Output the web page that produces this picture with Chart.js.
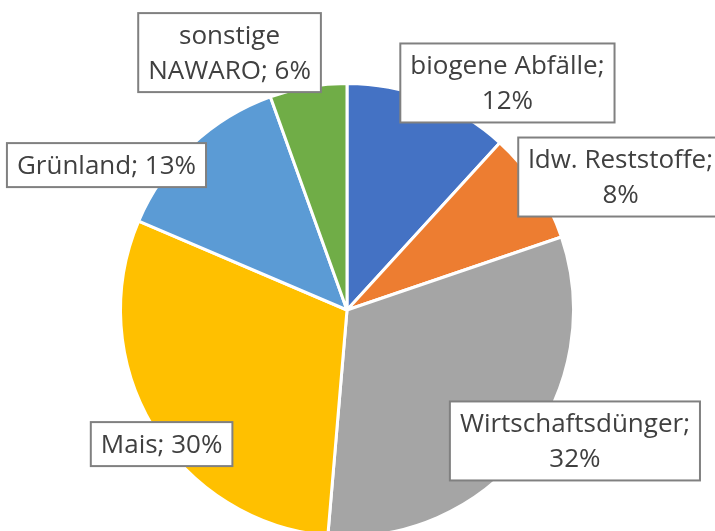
<!DOCTYPE html>
<html>
<head>
<meta charset="utf-8">
<script src="https://cdn.jsdelivr.net/npm/chart.js@4.4.1/dist/chart.umd.min.js"></script>
<style>
  html, body { margin: 0; padding: 0; background: #fff; overflow: hidden; }
  #wrap { position: relative; width: 715px; height: 538px; }
</style>
</head>
<body>
<div id="wrap"><canvas id="pie-chart"></canvas></div>
<script>
// Anteile der Substrate (Werte in %)
const categories = ["biogene Abfälle", "ldw. Reststoffe", "Wirtschaftsdünger", "Mais", "Grünland", "sonstige NAWARO"];
const shares = [11.8, 8.0, 31.6, 30.1, 13.1, 5.5];

// Zeilenumbruch der Beschriftungen wie im Original
const labelLines = [
  ["biogene Abfälle;", "{v}"],
  ["ldw. Reststoffe;", "{v}"],
  ["Wirtschaftsdünger;", "{v}"],
  ["Mais; {v}"],
  ["Grünland; {v}"],
  ["sonstige", "NAWARO; {v}"]
];

// Lage der Beschriftungskästen, relativ zum Kreismittelpunkt in Radien
const labelOffsets = [
  [0.713, -1.009],
  [1.216, -0.591],
  [1.013, 0.582],
  [-0.824, 0.596],
  [-1.069, -0.644],
  [-0.522, -1.144]
];

const colors = ["#4472C4", "#ED7D31", "#A5A5A5", "#FFC000", "#5B9BD5", "#70AD47"];

const boxLabels = {
  id: 'boxLabels',
  afterDraw(chart) {
    const ctx = chart.ctx;
    const arcs = chart.getDatasetMeta(0).data;
    ctx.save();
    ctx.font = '26px "Open Sans"';
    ctx.textAlign = 'center';
    ctx.textBaseline = 'middle';
    const lineH = 35, padX = 10, padY = 4.5;
    arcs.forEach((arc, i) => {
      const r = 225; // Bezugsradius fuer die Kastenlage
      const cx = arc.x + labelOffsets[i][0] * r;
      const cy = arc.y + labelOffsets[i][1] * r;
      const val = Math.round(shares[i]) + '%';
      const lines = labelLines[i].map(s => s.replace('{v}', val));
      const w = Math.max(...lines.map(s => ctx.measureText(s).width)) + 2 * padX;
      const h = lines.length * lineH + 2 * padY;
      ctx.fillStyle = '#ffffff';
      ctx.fillRect(cx - w / 2, cy - h / 2, w, h);
      ctx.strokeStyle = '#808080';
      ctx.lineWidth = 2;
      ctx.strokeRect(cx - w / 2, cy - h / 2, w, h);
      ctx.fillStyle = '#404040';
      lines.forEach((s, k) => {
        ctx.fillText(s, cx, cy - h / 2 + padY + lineH * (k + 0.5) + 1);
      });
    });
    ctx.restore();
  }
};

new Chart(document.getElementById("pie-chart"), {
  type: 'pie',
  data: {
    labels: categories,
    datasets: [{
      data: shares,
      backgroundColor: colors,
      borderColor: '#ffffff',
      borderWidth: 3,
      hoverOffset: 0,
      offset: 0
    }]
  },
  options: {
    responsive: true,
    maintainAspectRatio: false,
    animation: false,
    layout: { padding: { left: 119, right: 140, top: 82, bottom: 0 } },
    plugins: {
      legend: { display: false },
      tooltip: { enabled: false }
    }
  },
  plugins: [boxLabels]
});
</script>
</body>
</html>
